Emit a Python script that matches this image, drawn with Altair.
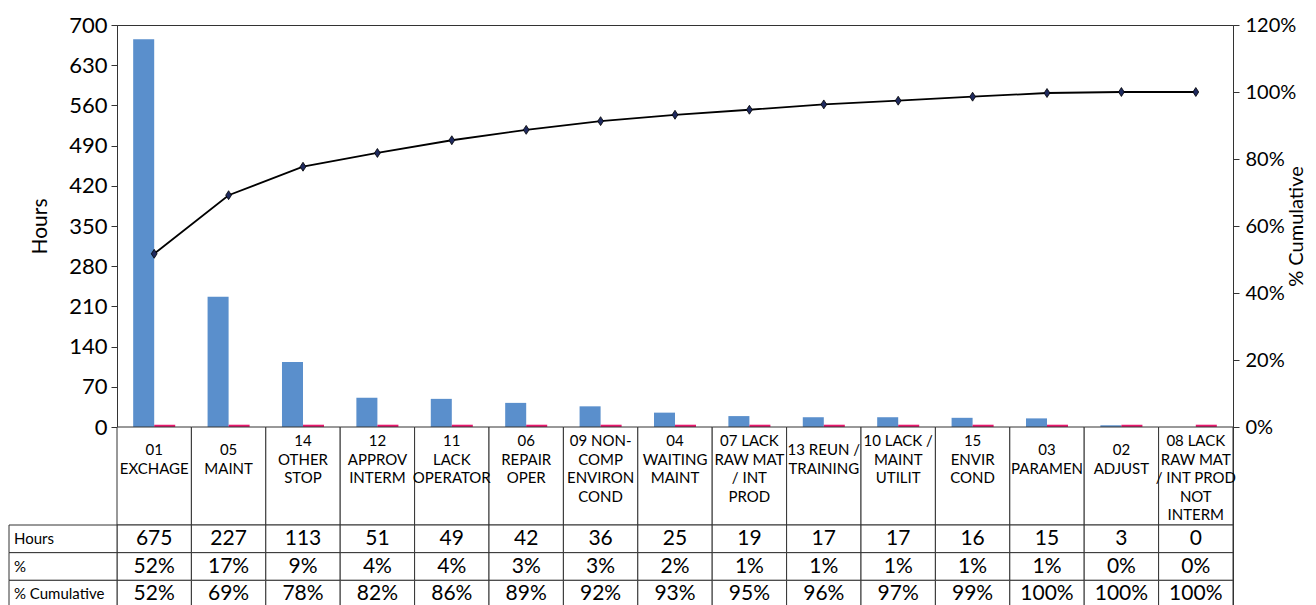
import altair as alt
import pandas as pd

# ---------------- data ----------------
codes = ["01", "05", "14", "12", "11", "06", "09", "04", "07", "13", "10", "15", "03", "02", "08"]
labels = [
    "01\nEXCHAGE",
    "05\nMAINT",
    "14\nOTHER\nSTOP",
    "12\nAPPROV\nINTERM",
    "11\nLACK\nOPERATOR",
    "06\nREPAIR\nOPER",
    "09 NON-\nCOMP\nENVIRON\nCOND",
    "04\nWAITING\nMAINT",
    "07  LACK\nRAW MAT\n/ INT\nPROD",
    "13 REUN /\nTRAINING",
    "10 LACK /\nMAINT\nUTILIT",
    "15\nENVIR\nCOND",
    "03\nPARAMEN",
    "02\nADJUST",
    "08 LACK\nRAW MAT\n/ INT PROD\nNOT\nINTERM",
]
hours = [675, 227, 113, 51, 49, 42, 36, 25, 19, 17, 17, 16, 15, 3, 0]
pink_values = [4, 4, 4, 4, 4, 4, 4, 4, 4, 4, 4, 4, 4, 4, 4]
cum_values = [0.517, 0.692, 0.777, 0.818, 0.856, 0.887, 0.913, 0.932, 0.947,
              0.963, 0.974, 0.986, 0.997, 1.0, 1.0]
pct_labels = ["52%", "17%", "9%", "4%", "4%", "3%", "3%", "2%", "1%", "1%", "1%", "1%", "1%", "0%", "0%"]
cum_labels = ["52%", "69%", "78%", "82%", "86%", "89%", "92%", "93%", "95%", "96%", "97%", "99%",
              "100%", "100%", "100%"]
row_names = ["Hours", "%", "% Cumulative"]
hours_ticks = [0, 70, 140, 210, 280, 350, 420, 490, 560, 630, 700]
pct_ticks = [0, 0.2, 0.4, 0.6, 0.8, 1.0, 1.2]

# ---------------- styles ----------------
BLUE = "#5A8FCC"
PINK = "#E8196E"
LINE = "#333333"
FONT = "Lato"
W = 1116

bar_df = pd.DataFrame(
    [{"code": c, "series": "Hours", "value": v} for c, v in zip(codes, hours)]
    + [{"code": c, "series": "%", "value": v} for c, v in zip(codes, pink_values)]
)
line_df = pd.DataFrame({"code": codes, "cum": cum_values})
cat_df = pd.DataFrame({"code": codes, "label": labels,
                       "nlines": [len(l.split("\n")) for l in labels]})
tab_df = pd.DataFrame(
    [{"code": c, "row": "Hours", "txt": str(h)} for c, h in zip(codes, hours)]
    + [{"code": c, "row": "%", "txt": p} for c, p in zip(codes, pct_labels)]
    + [{"code": c, "row": "% Cumulative", "txt": p} for c, p in zip(codes, cum_labels)]
)
hdr_df = pd.DataFrame({"row": row_names})

# ---------------- top chart ----------------
x_top = alt.X("code:N", sort=codes, axis=None,
              scale=alt.Scale(paddingInner=0.435, paddingOuter=0.2175))

bars = alt.Chart(bar_df).mark_bar().encode(
    x=x_top,
    xOffset=alt.XOffset("series:N", sort=["Hours", "%"],
                        scale=alt.Scale(paddingInner=0, paddingOuter=0)),
    y=alt.Y("value:Q", scale=alt.Scale(domain=[0, 700], nice=False),
            axis=alt.Axis(values=hours_ticks, title="Hours", grid=False,
                          labelFontSize=22, titleFontSize=21, titleFontWeight="normal",
                          tickSize=6, labelPadding=4, titlePadding=18)),
    color=alt.Color("series:N", scale=alt.Scale(domain=["Hours", "%"], range=[BLUE, PINK]),
                    legend=None),
)

line = alt.Chart(line_df).mark_line(color="black", strokeWidth=1.8).encode(
    x=alt.X("code:N", sort=codes),
    y=alt.Y("cum:Q", scale=alt.Scale(domain=[0, 1.2], nice=False),
            axis=alt.Axis(orient="right", values=pct_ticks, format=".0%", grid=False,
                          title="% Cumulative", titleAngle=270, labelFontSize=20,
                          titleFontSize=20, titleFontWeight="normal", tickSize=6,
                          labelPadding=6, titlePadding=11)),
)
pts = alt.Chart(line_df).mark_point(
    shape="M0,-1L0.65,0L0,1L-0.65,0Z", filled=True, size=80, fill="#1F2A5E",
    stroke="black", strokeWidth=0.8, opacity=1,
).encode(
    x=alt.X("code:N", sort=codes),
    y=alt.Y("cum:Q"),
)

top = alt.layer(bars, alt.layer(line, pts)).resolve_scale(y="independent").properties(
    width=W, height=402)

# ---------------- category label row ----------------
x_tab = alt.X("code:N", sort=codes, axis=None, scale=alt.Scale(paddingInner=0, paddingOuter=0))
cat_cells = alt.Chart(cat_df).mark_rect(fill="white", stroke=LINE, strokeWidth=1).encode(
    x=x_tab, y=alt.value(0), y2=alt.value(98))
txt_short = alt.Chart(cat_df).transform_filter("datum.nlines <= 2").mark_text(
    baseline="top", lineBreak="\n", lineHeight=18.5, fontSize=15, font=FONT, color="black"
).encode(x=x_tab, y=alt.value(16), text="label:N")
txt_long = alt.Chart(cat_df).transform_filter("datum.nlines >= 3").mark_text(
    baseline="top", lineBreak="\n", lineHeight=18.5, fontSize=15, font=FONT, color="black"
).encode(x=x_tab, y=alt.value(7), text="label:N")
cat_row = alt.layer(cat_cells, txt_short, txt_long).properties(width=W, height=98)

# ---------------- data table ----------------
y_row = alt.Y("row:N", sort=row_names, axis=None,
              scale=alt.Scale(paddingInner=0, paddingOuter=0))
tab_cells = alt.Chart(tab_df).mark_rect(fill="white", stroke=LINE, strokeWidth=1).encode(
    x=x_tab, y=y_row)
tab_txt = alt.Chart(tab_df).mark_text(fontSize=21, font=FONT, color="black").encode(
    x=x_tab, y=y_row, text="txt:N")
hdr_cells = alt.Chart(hdr_df).mark_rect(fill="white", stroke=LINE, strokeWidth=1).encode(
    x=alt.value(-108), x2=alt.value(0), y=y_row)
hdr_txt = alt.Chart(hdr_df).mark_text(align="left", fontSize=15, font=FONT, color="black").encode(
    x=alt.value(-103), y=y_row, text="row:N")
table = alt.layer(tab_cells, tab_txt, hdr_cells, hdr_txt).properties(width=W, height=83)

chart = alt.vconcat(top, cat_row, table, spacing=0, bounds="flush").properties(
    padding={"left": 0, "top": 5, "right": 0, "bottom": 0}
).configure_view(stroke=LINE, strokeWidth=1).configure_axis(
    domainColor=LINE, tickColor=LINE, labelColor="black", titleColor="black",
    labelFont=FONT, titleFont=FONT,
)

chart.save("out.html", embed_options={"renderer": "svg", "actions": False})
